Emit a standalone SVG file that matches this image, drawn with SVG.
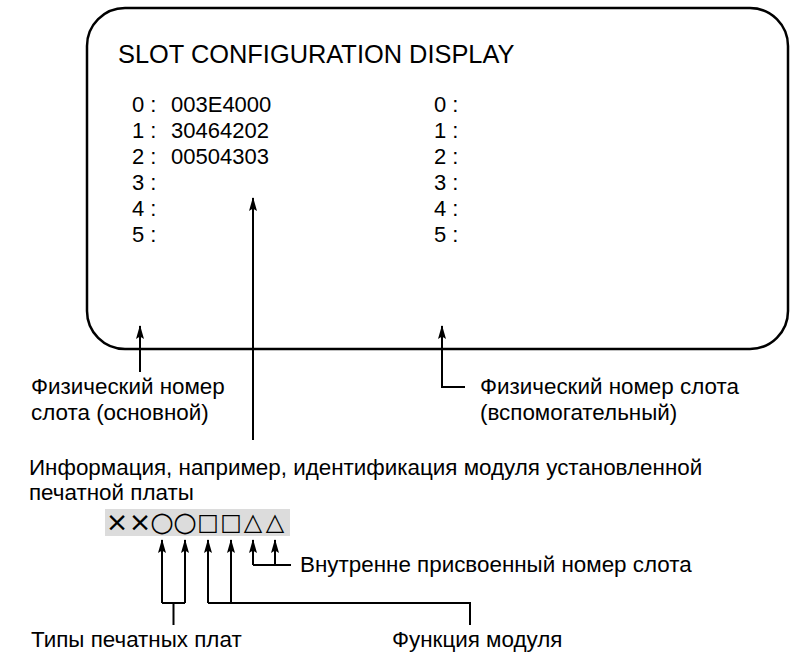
<svg xmlns="http://www.w3.org/2000/svg" width="790" height="654" viewBox="0 0 790 654">
<style>
.t{font-family:"Liberation Sans",Arial,sans-serif;fill:#000}
.title{font-size:25.4px}
.row{font-size:22px}
.lbl{font-size:22.4px}
.sym{font-family:"DejaVu Sans","Noto Sans",sans-serif;fill:#000;text-anchor:middle}
.x{font-size:27px}
.o{font-size:27px}
.s{font-size:23px}
.tr{font-size:24px}
.ln{fill:none;stroke:#000;stroke-width:2}
.box{fill:none;stroke:#000;stroke-width:2.5}
</style>
<defs>
<marker id="ah" viewBox="0 0 14 8" refX="13" refY="4" markerWidth="14" markerHeight="8" orient="auto" markerUnits="userSpaceOnUse">
<path d="M0,0 L14,4 L0,8 L2.5,4 Z" fill="#000"/>
</marker>
</defs>
<rect width="790" height="654" fill="#fff"/>
<g id="screen">
<rect class="box" x="87" y="8" width="701" height="341" rx="38" ry="38"/>
<text class="t title" x="118" y="63">SLOT CONFIGURATION DISPLAY</text>
<g class="t row">
<text x="132" y="112">0 :</text><text x="171" y="112">003E4000</text>
<text x="132" y="138">1 :</text><text x="171" y="138">30464202</text>
<text x="132" y="164">2 :</text><text x="171" y="164">00504303</text>
<text x="132" y="190">3 :</text>
<text x="132" y="216">4 :</text>
<text x="132" y="242">5 :</text>
<text x="434" y="112">0 :</text>
<text x="434" y="138">1 :</text>
<text x="434" y="164">2 :</text>
<text x="434" y="190">3 :</text>
<text x="434" y="216">4 :</text>
<text x="434" y="242">5 :</text>
</g>
</g>
<g id="label-main">
<text class="t lbl" x="31" y="394">Физический номер</text>
<text class="t lbl" x="31" y="420">слота (основной)</text>
</g>
<g id="label-aux">
<text class="t lbl" x="480" y="394">Физический номер слота</text>
<text class="t lbl" x="480" y="420">(вспомогательный)</text>
</g>
<g id="label-info">
<text class="t lbl" x="29" y="475">Информация, например, идентификация модуля установленной</text>
<text class="t lbl" x="29" y="500">печатной платы</text>
</g>
<g id="code">
<rect x="105" y="509" width="185" height="27" fill="#dcdcdc"/>
<text class="sym x" x="117" y="531">×</text>
<text class="sym x" x="140" y="531">×</text>
<text class="sym o" x="162" y="531">○</text>
<text class="sym o" x="185" y="531">○</text>
<text class="sym s" x="208" y="530">□</text>
<text class="sym s" x="231" y="530">□</text>
<text class="sym tr" x="253" y="530">△</text>
<text class="sym tr" x="275" y="530">△</text>
</g>
<g id="label-slot-internal">
<text class="t lbl" x="300" y="572">Внутренне присвоенный номер слота</text>
</g>
<g id="label-types">
<text class="t lbl" x="31" y="647">Типы печатных плат</text>
</g>
<g id="label-function">
<text class="t lbl" x="392" y="647">Функция модуля</text>
</g>
<g id="connectors">
<path class="ln" d="M140,372 V326" marker-end="url(#ah)"/>
<path class="ln" d="M253,440 V198" marker-end="url(#ah)"/>
<path class="ln" d="M465,387 H442 V326" marker-end="url(#ah)"/>
<path class="ln" d="M162,603 V540" marker-end="url(#ah)"/>
<path class="ln" d="M185,603 V540" marker-end="url(#ah)"/>
<path class="ln" d="M162,603 H185 M173.5,603 V625"/>
<path class="ln" d="M208,603 V540" marker-end="url(#ah)"/>
<path class="ln" d="M231,603 V540" marker-end="url(#ah)"/>
<path class="ln" d="M208,603 H470 V625"/>
<path class="ln" d="M253,565 V540" marker-end="url(#ah)"/>
<path class="ln" d="M275,565 V540" marker-end="url(#ah)"/>
<path class="ln" d="M253,565 H291"/>
</g>
</svg>
